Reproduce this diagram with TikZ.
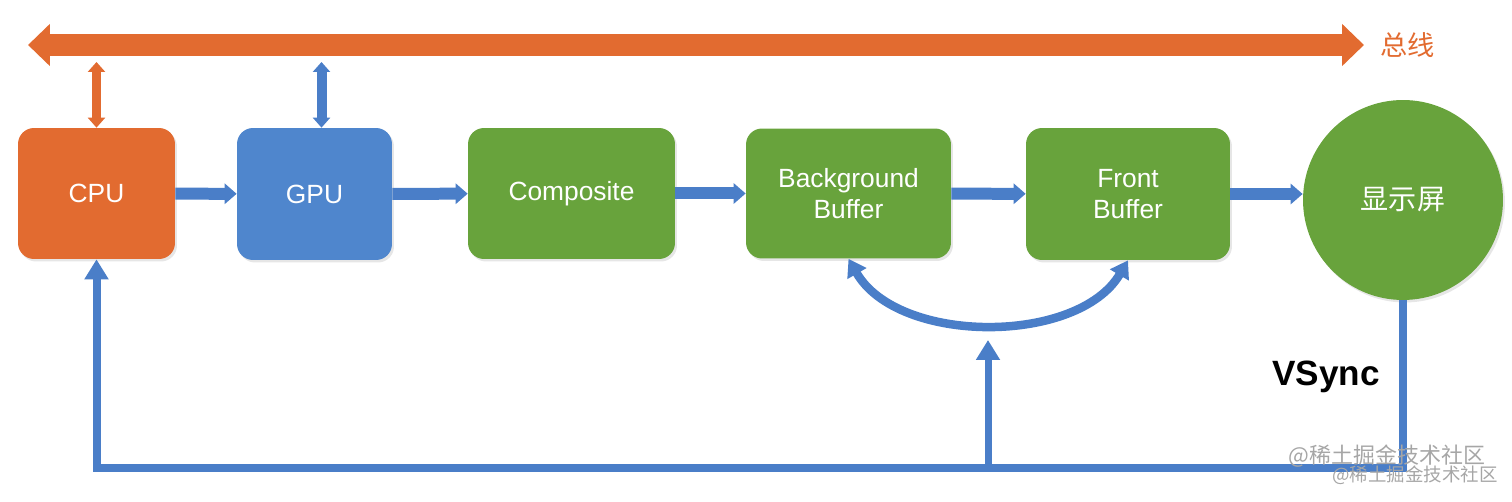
\documentclass[tikz,border=0pt]{standalone}
\usepackage{fontspec}
\setmainfont{Liberation Sans}
\newfontfamily\cjk{Noto Sans CJK SC}
\usepackage{xcolor}
\usepackage{tikz}
\usetikzlibrary{positioning, shapes, arrows.meta, calc, shadows}

\definecolor{busorange}{RGB}{226,107,48}
\definecolor{gpublue}{RGB}{79,134,205}
\definecolor{flowblue}{RGB}{74,126,200}
\definecolor{boxgreen}{RGB}{104,163,60}

\begin{document}
\begin{tikzpicture}[
      x=0.02cm, y=-0.02cm,
      box/.style={rectangle, rounded corners=0.32cm, fill=boxgreen, text=white, align=center, minimum height=2.62cm, font=\fontsize{15}{18}\selectfont, drop shadow={opacity=0.2, shadow xshift=0.04cm, shadow yshift=-0.05cm}},
      flow/.style={draw=flowblue, line width=0.24cm, -{Triangle[length=0.24cm, width=0.4cm]}},
      sync/.style={draw=flowblue, line width=0.16cm, -{Triangle[length=0.4cm, width=0.46cm]}},
      bus/.style={draw=busorange, line width=0.44cm, {Triangle[length=0.44cm, width=0.82cm]}-{Triangle[length=0.44cm, width=0.82cm]}},
      link/.style={line width=0.2cm, {Triangle[length=0.2cm, width=0.34cm]}-{Triangle[length=0.2cm, width=0.34cm]}}
    ]
      \useasboundingbox (0,0) rectangle (1512,502);

      % Boxes
      \node[box, fill=busorange, minimum width=3.14cm] (cpu) at (96.5,193.5) {CPU};
      \node[box, fill=gpublue, minimum width=3.1cm, minimum height=2.64cm] (gpu) at (314.5,194) {GPU};
      \node[box, minimum width=4.14cm] (comp) at (571.5,193.5) {Composite};
      \node[box, minimum width=4.1cm, minimum height=2.6cm] (back) at (848.5,193.5) {Background\\Buffer};
      \node[box, minimum width=4.08cm, minimum height=2.64cm] (front) at (1128,194) {Front\\Buffer};
      \node[circle, fill=boxgreen, text=white, minimum size=4cm, inner sep=0pt, font=\cjk\fontsize{16}{18}\selectfont, drop shadow={opacity=0.2, shadow xshift=0.04cm, shadow yshift=-0.05cm}] (disp) at (1403,200) {显示屏};

      % Bus
      \coordinate (busL) at (28,45);
      \coordinate (busR) at (1364,45);
      \draw[bus] (busL) -- (busR);
      \node[text=busorange, font=\cjk\fontsize{15.5}{18}\selectfont, anchor=west] (busname) at (1374,45) {总线};
      \draw[link, draw=busorange] (cpu.north |- 0,62) -- (cpu.north);
      \draw[link, draw=flowblue] ([xshift=0.14cm]gpu.north |- 0,62) -- ([xshift=0.14cm]gpu.north);

      % Arrows
      \draw[flow] (cpu) -- (gpu);
      \draw[flow] (gpu) -- (comp);
      \draw[flow] (comp) -- (back);
      \draw[flow] (back) -- (front);
      \draw[flow] (front.east) -- (front.east -| disp.west);

      % swap buffers
      \draw[draw=flowblue, line width=0.17cm, {Triangle[length=0.34cm, width=0.42cm]}-{Triangle[length=0.34cm, width=0.42cm]}]
        (back.south) .. controls (898,345) and (1078,345) .. (front.south);

      % VSync
      \coordinate (vs) at (1403,468);
      \coordinate (split) at (988,468);
      \coordinate (swap) at (988,340);
      \draw[sync] (disp.south) -- (vs) -| (cpu.south);
      \draw[sync, line width=0.14cm] (split) -- (swap);
      \node[font=\bfseries\fontsize{20}{24}\selectfont, anchor=east] (vsync) at (1386,377) {VSync};

      % watermark
      \node[text=black!35, font=\cjk\fontsize{12.5}{14}\selectfont] (wm1) at (1387,456) {@稀土掘金技术社区};
      \node[text=black!35, font=\cjk\fontsize{10.5}{12}\selectfont] (wm2) at (1415,475) {@稀土掘金技术社区};
    \end{tikzpicture}
\end{document}
